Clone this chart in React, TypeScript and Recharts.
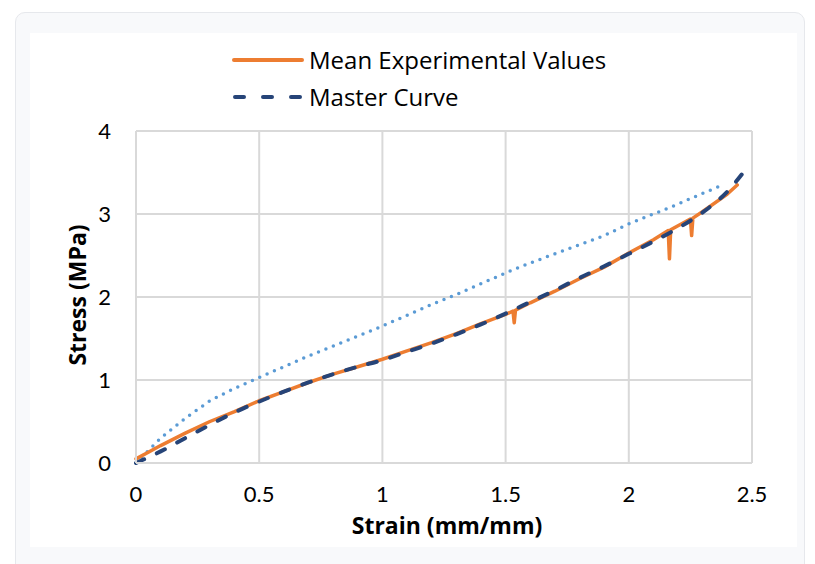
import React from 'react';
import { LineChart, Line, XAxis, YAxis, CartesianGrid } from 'recharts';

// Mean experimental curve (spikes are short unloading drops in the raw data)
const meanStrain = [0, 0.05, 0.1, 0.2, 0.3, 0.4, 0.5, 0.6, 0.7, 0.8, 0.9, 1.0, 1.1, 1.2, 1.3, 1.4, 1.5, 1.53, 1.535, 1.54, 1.6, 1.7, 1.8, 1.9, 2.0, 2.1, 2.16, 2.165, 2.17, 2.25, 2.255, 2.26, 2.3, 2.4, 2.44];
const meanStress = [0.05, 0.13, 0.21, 0.36, 0.5, 0.62, 0.75, 0.86, 0.97, 1.07, 1.16, 1.25, 1.35, 1.45, 1.56, 1.68, 1.79, 1.83, 1.69, 1.84, 1.93, 2.07, 2.22, 2.36, 2.53, 2.69, 2.8, 2.46, 2.81, 2.94, 2.74, 2.95, 3.03, 3.24, 3.35];

const masterStrain = [0, 0.1, 0.2, 0.3, 0.4, 0.5, 0.6, 0.7, 0.8, 0.9, 1.0, 1.1, 1.2, 1.3, 1.4, 1.5, 1.6, 1.7, 1.8, 1.9, 2.0, 2.1, 2.2, 2.3, 2.4, 2.48];
const masterStress = [0, 0.14, 0.3, 0.46, 0.61, 0.74, 0.86, 0.97, 1.07, 1.16, 1.24, 1.34, 1.44, 1.55, 1.67, 1.8, 1.94, 2.08, 2.23, 2.37, 2.52, 2.67, 2.83, 3.02, 3.27, 3.56];

// dotted fit (no legend entry)
const fitStrain = [0, 0.05, 0.1, 0.2, 0.3, 0.4, 0.5, 0.6, 0.7, 0.8, 0.9, 1.0, 1.1, 1.2, 1.3, 1.4, 1.5, 1.6, 1.7, 1.8, 1.9, 2.0, 2.1, 2.2, 2.3, 2.39];
const fitStress = [0, 0.15, 0.3, 0.54, 0.75, 0.9, 1.03, 1.16, 1.29, 1.41, 1.53, 1.65, 1.78, 1.91, 2.03, 2.16, 2.29, 2.41, 2.52, 2.63, 2.74, 2.88, 3.0, 3.12, 3.25, 3.36];

const xTicks = [0, 0.5, 1, 1.5, 2, 2.5];
const yTicks = [0, 1, 2, 3, 4];

const toPoints = (xs: number[], ys: number[]) => xs.map((x, i) => ({ x, y: ys[i] }));

const meanData = toPoints(meanStrain, meanStress);
const masterData = toPoints(masterStrain, masterStress);
const fitData = toPoints(fitStrain, fitStress);

const FONT = 'Lato, "Open Sans", sans-serif';
const TEXT_FONT = '"Open Sans", Lato, sans-serif';
const ORANGE = '#ED7D31';
const NAVY = '#264478';
const LIGHT_BLUE = '#5B9BD5';

const App = () => {
  return (
    <div style={{ position: 'absolute', left: 0, top: 0, width: 815, height: 564, overflow: 'hidden', fontFamily: FONT }}>
      {/* card */}
      <div style={{ position: 'absolute', left: 15, top: 12, width: 788, height: 570, background: '#f8f9fb', border: '1px solid #e6e8ec', borderRadius: 10 }} />
      <div style={{ position: 'absolute', left: 30, top: 33, width: 767, height: 514, background: '#ffffff' }} />

      <div style={{ position: 'absolute', left: 0, top: 0 }}>
        <LineChart width={815} height={564} margin={{ top: 131, right: 63, left: 76, bottom: 71 }}>
          <CartesianGrid stroke="#d9d9d9" strokeWidth={2} horizontalValues={yTicks} verticalValues={xTicks} />
          <XAxis
            type="number"
            dataKey="x"
            domain={[0, 2.5]}
            ticks={xTicks}
            height={30}
            tickSize={0}
            tickMargin={23}
            tickLine={false}
            axisLine={{ stroke: '#d9d9d9', strokeWidth: 2 }}
            tick={{ fill: '#000', fontSize: 22, fontFamily: FONT }}
            allowDuplicatedCategory={false}
          />
          <YAxis
            type="number"
            dataKey="y"
            domain={[0, 4]}
            ticks={yTicks}
            width={60}
            tickSize={0}
            tickMargin={25}
            tickLine={false}
            axisLine={{ stroke: '#d9d9d9', strokeWidth: 2 }}
            tick={{ fill: '#000', fontSize: 22, fontFamily: FONT }}
          />
          <Line
            data={fitData}
            dataKey="y"
            type="linear"
            stroke={LIGHT_BLUE}
            strokeWidth={3.5}
            strokeDasharray="0 8"
            strokeLinecap="round"
            dot={false}
            isAnimationActive={false}
          />
          <Line
            data={meanData}
            dataKey="y"
            type="linear"
            stroke={ORANGE}
            strokeWidth={3.5}
            strokeLinejoin="round"
            strokeLinecap="round"
            dot={false}
            isAnimationActive={false}
          />
          <Line
            data={masterData}
            dataKey="y"
            type="monotone"
            stroke={NAVY}
            strokeWidth={4}
            strokeDasharray="9 14"
            strokeLinecap="round"
            dot={false}
            isAnimationActive={false}
          />
        </LineChart>
      </div>

      {/* legend */}
      <div style={{ position: 'absolute', left: 232, top: 44, fontSize: 24, fontFamily: TEXT_FONT, color: '#000', lineHeight: '32px' }}>
        <div style={{ display: 'flex', alignItems: 'center' }}>
          <svg width={72} height={8} style={{ marginRight: 5 }}>
            <line x1={2} y1={4} x2={70} y2={4} stroke={ORANGE} strokeWidth={4} strokeLinecap="round" />
          </svg>
          <span>Mean Experimental Values</span>
        </div>
        <div style={{ display: 'flex', alignItems: 'center', marginTop: 5 }}>
          <svg width={72} height={8} style={{ marginRight: 5 }}>
            <line x1={3} y1={4} x2={70} y2={4} stroke={NAVY} strokeWidth={4} strokeLinecap="round" strokeDasharray="9 19" />
          </svg>
          <span>Master Curve</span>
        </div>
      </div>

      {/* axis titles */}
      <div
        style={{
          position: 'absolute',
          left: 247,
          width: 400,
          top: 514,
          height: 23,
          lineHeight: '23px',
          textAlign: 'center',
          fontSize: 23,
          fontWeight: 700,
          fontFamily: TEXT_FONT,
          color: '#000',
        }}
      >
        Strain (mm/mm)
      </div>
      <div
        style={{
          position: 'absolute',
          left: 77,
          top: 295,
          transform: 'translate(-50%, -50%) rotate(-90deg)',
          fontSize: 23,
          lineHeight: '23px',
          fontWeight: 700,
          fontFamily: TEXT_FONT,
          color: '#000',
          whiteSpace: 'nowrap',
        }}
      >
        Stress (MPa)
      </div>
    </div>
  );
};

export default App;
